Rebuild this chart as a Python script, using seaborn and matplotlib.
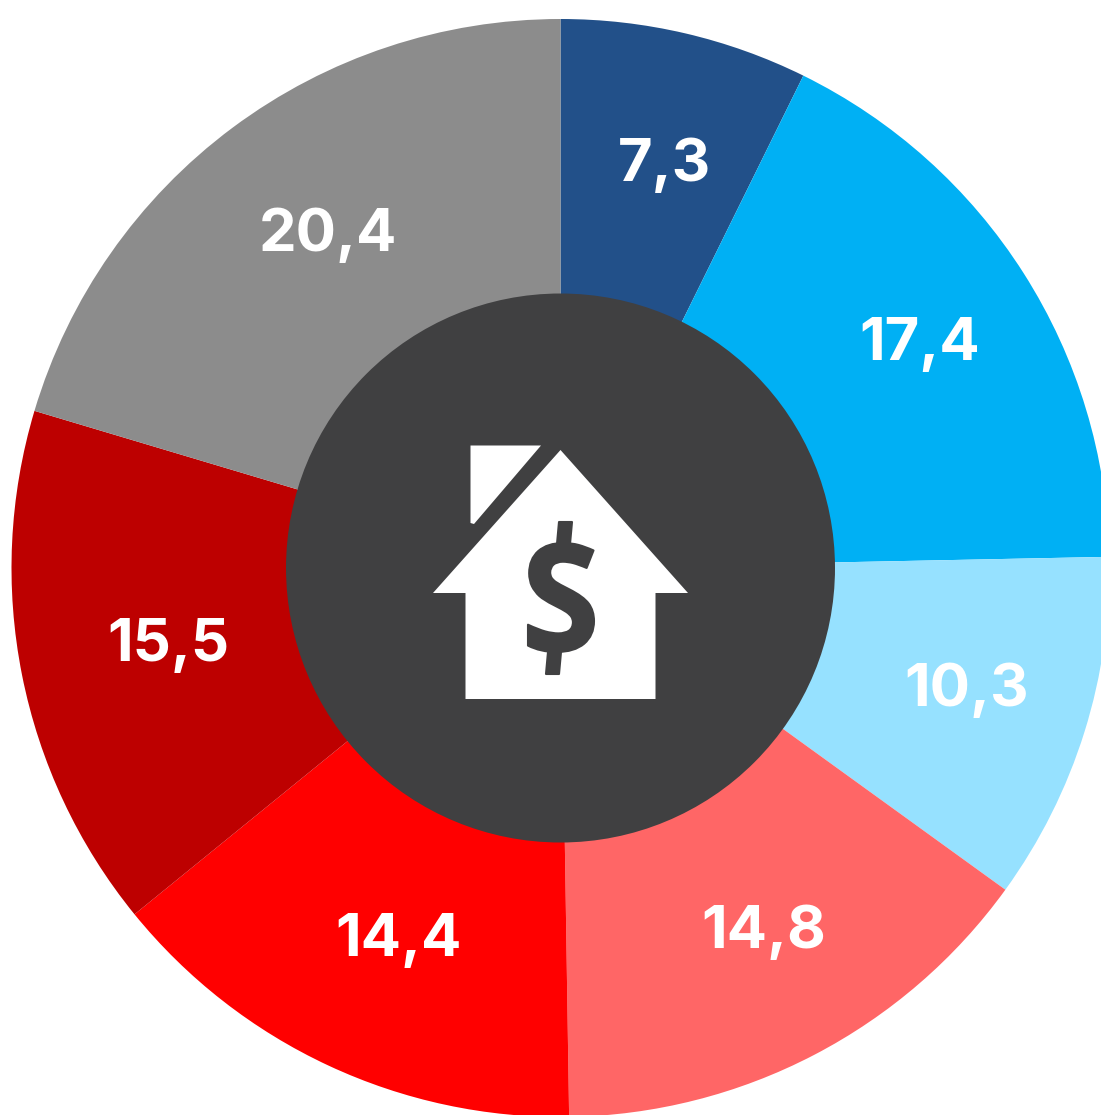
import numpy as np
import matplotlib
matplotlib.use("Agg")
import matplotlib.pyplot as plt
from matplotlib.patches import Polygon, Circle, PathPatch
from matplotlib.textpath import TextPath
from matplotlib.font_manager import FontProperties
from matplotlib.transforms import Affine2D
import seaborn as sns

values = [7.3, 17.4, 10.3, 14.8, 14.4, 15.5, 20.4]
labels = ["7,3", "17,4", "10,3", "14,8", "14,4", "15,5", "20,4"]
colors = ["#225089", "#00B0F4", "#96E1FF", "#FF6666", "#FF0000", "#BD0000", "#8C8C8C"]
label_nudges = [(8, 8), (3, 3), (3, -4), (8, -10), (16, -10), (22, -5), (20, 6)]

sns.set_theme(style="white")
plt.rcParams['font.family'] = ['Inter', 'DejaVu Sans']

W, H = 1101, 1115
cx, cy = 560.5, H - 568
DARK = "#404041"
fig = plt.figure(figsize=(W / 100, H / 100), dpi=100, facecolor="white")
ax = fig.add_axes([0, 0, 1, 1])
wedges, _ = ax.pie(values, colors=sns.color_palette(colors), startangle=90, counterclock=False,
                   center=(cx, cy), radius=549, wedgeprops=dict(linewidth=0))
ax.set_xlim(0, W)
ax.set_ylim(0, H)
ax.set_aspect("equal")
ax.axis("off")

for w, lab, (nx, ny) in zip(wedges, labels, label_nudges):
    a = np.deg2rad((w.theta1 + w.theta2) / 2)
    ax.annotate(lab, (cx + 422 * np.cos(a), cy + 422 * np.sin(a)), xytext=(nx * 0.72, -ny * 0.72),
                textcoords="offset points", color="white", fontsize=43,
                fontweight="bold", ha="center", va="center")

ax.add_patch(Circle((cx, cy), 274.5, color=DARK, lw=0, zorder=5))
house = [(560.5, 450), (688, 593), (655.5, 593), (655.5, 699), (465.5, 699), (465.5, 593), (433, 593)]
ax.add_patch(Polygon([(x, H - y) for x, y in house], color="white", lw=0, zorder=6))
flag = [(470.5, 445.5), (541, 445.5), (474, 524), (470.5, 523)]
ax.add_patch(Polygon([(x, H - y) for x, y in flag], color="white", lw=0, zorder=6))

# dollar icon: an S outline fitted to the icon box, with two slanted bars
s_path = TextPath((0, 0), "S", size=100, prop=FontProperties(family="Open Sans", weight="bold"))
bb = s_path.get_extents()
x0, x1, y0, y1 = 528, 594, 543, 652
fit = (Affine2D().translate(-bb.x0, -bb.y0)
       .scale((x1 - x0) / bb.width, (y1 - y0) / bb.height)
       .translate(x0, H - y1))
ax.add_patch(PathPatch(fit.transform_path(s_path), facecolor=DARK, edgecolor=DARK, lw=1.5,
                       joinstyle="round", zorder=7))
for bar in ([(559, 522), (572, 522), (570, 544), (557, 544)],
            [(548, 652), (561, 652), (559, 674), (546, 674)]):
    ax.add_patch(Polygon([(x, H - y) for x, y in bar], facecolor=DARK, edgecolor=DARK, lw=1.5,
                         joinstyle="round", zorder=7))
fig.savefig("out.png", dpi=100)
